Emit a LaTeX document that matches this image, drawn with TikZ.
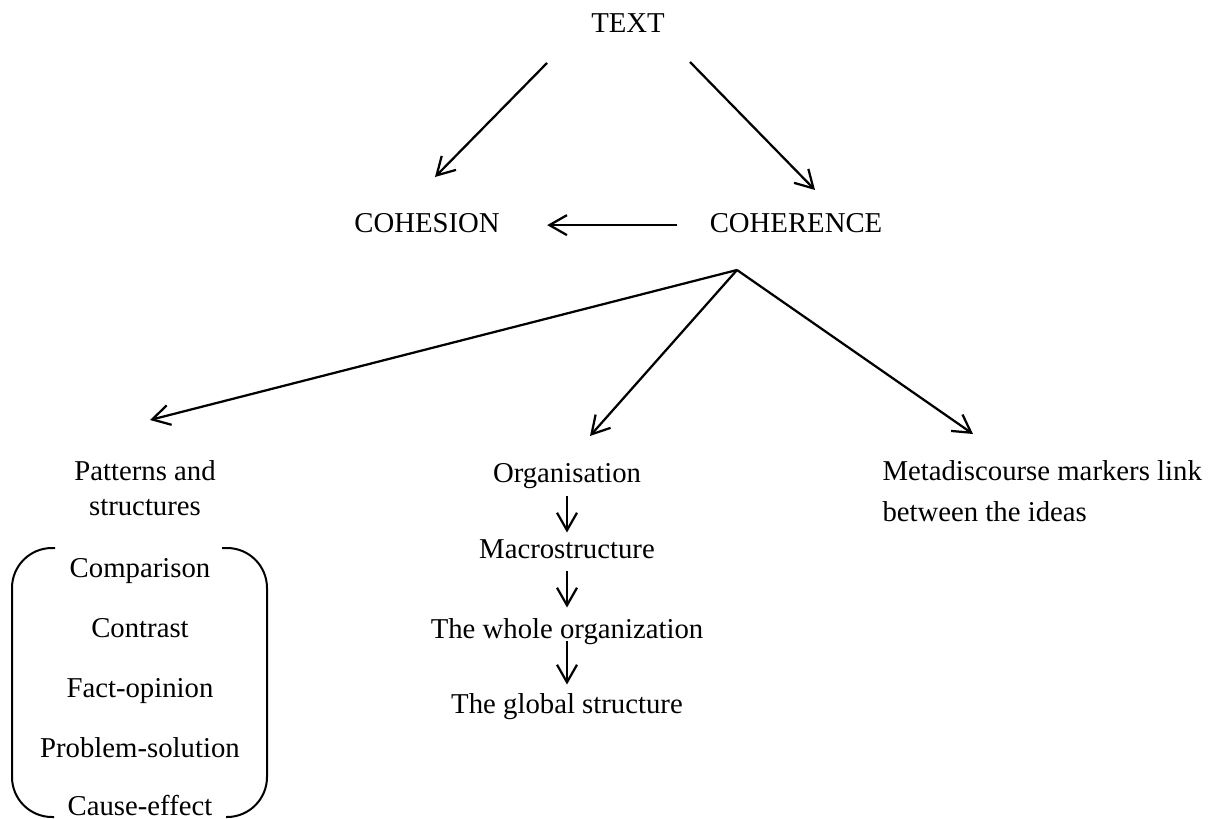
\documentclass[tikz,border=0pt]{standalone}
\usepackage{fontspec}
\setmainfont{Liberation Serif}
\usetikzlibrary{arrows.meta}

\begin{document}
\begin{tikzpicture}[x=0.4pt, y=-0.4pt,
  lbl/.style={inner sep=0, anchor=base, font=\fontsize{11.5}{14}\selectfont, text height=8pt, text depth=2.5pt},
  arr/.style={-{Straight Barb[length=7pt, width=8pt]}, line width=0.9pt}]

\useasboundingbox (0,0) rectangle (1212,819);

% top nodes

\node[lbl] (t) at (628,33) {TEXT};
\node[lbl] (ch) at (427,232) {COHESION};
\node[lbl] (ce) at (796,232) {COHERENCE};

% branch nodes (base is the last line)

\node[inner sep=0, anchor=base, align=center, font=\fontsize{11.5}{14}\selectfont] (pat) at (145,515) {Patterns and\\structures};
\node[lbl] (org) at (567,482) {Organisation};
\node[inner sep=0, anchor=base west, align=left, font=\fontsize{11.5}{16.4}\selectfont] (met) at (882,521) {Metadiscourse markers link\\between the ideas};

% organisation chain

\node[lbl] (mac) at (567,558) {Macrostructure};
\node[lbl] (who) at (567,638) {The whole organization};
\node[lbl] (glo) at (567,713) {The global structure};

% pattern list

\node[lbl] (i1) at (140,577) {Comparison};
\node[lbl] (i2) at (140,637) {Contrast};
\node[lbl] (i3) at (140,697) {Fact-opinion};
\node[lbl] (i4) at (140,757) {Problem-solution};
\node[lbl] (i5) at (140,815) {Cause-effect};

\draw[line width=0.8pt, rounded corners=16pt] (55,548) -- (12,548) -- (12,817) -- (54,817);
\draw[line width=0.8pt, rounded corners=16pt] (222,548) -- (267,548) -- (267,817) -- (226,817);

% free ends

\coordinate (tl) at (547,63);
\coordinate (cl) at (435,177);
\coordinate (tr) at (690,62);
\coordinate (cr) at (815,190);
\coordinate (br) at (737,270);
\coordinate (pe) at (150,420);
\coordinate (oe) at (590,436);
\coordinate (me) at (973,434);

% text to cohesion and coherence
\draw[arr] (tl) -- (cl);
\draw[arr] (tr) -- (cr);
\draw[arr, shorten <=12.8pt, shorten >=18.8pt] (ce) -- (ch);

% coherence to branches
\draw[arr] (br) -- (pe);
\draw[arr] (br) -- (oe);
\draw[arr] (br) -- (me);

% organisation to global structure
\draw[arr, shorten <=2.8pt, shorten >=2pt] (org) -- (mac);
\draw[arr, shorten <=2.4pt, shorten >=4pt] (mac) -- (who);
\draw[arr, shorten <=-1.6pt, shorten >=3.2pt] (who) -- (glo);

\end{tikzpicture}
\end{document}
